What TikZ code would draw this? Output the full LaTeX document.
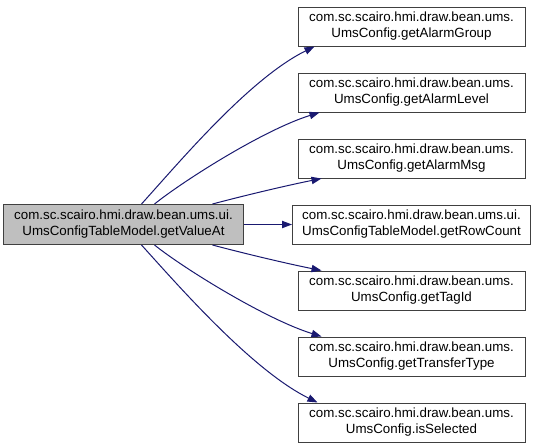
\documentclass[tikz,border=0pt]{standalone}
\usepackage{fontspec}
\setmainfont{Liberation Sans}
\usepackage{xcolor}
\usetikzlibrary{
  arrows.meta,
  calc,
  positioning
}
\definecolor{EdgeBlue}{RGB}{25,25,112}
\definecolor{NodeGray}{RGB}{191,191,191}

\begin{document}
\begin{tikzpicture}[
  x=0.75pt, y=-0.75pt,
  font=\fontsize{10}{12}\selectfont,
  node distance=19.5pt and 36pt,
  fnbox/.style={draw=black!75, line width=0.75pt, fill=#1, align=center,
                minimum width=170.25pt, minimum height=29.25pt, inner sep=1pt},
  fnbox/.default=white,
  call/.style={draw=EdgeBlue, line width=0.75pt,
               -{Triangle[length=7.5pt, width=5.5pt]}, fill=none},
]
  \useasboundingbox (0,0) rectangle (536,444);

  \node[fnbox] (agroup) at (411.5,26.5) {com.sc.scairo.hmi.draw.bean.ums.\\UmsConfig.getAlarmGroup};
  \node[fnbox, below=of agroup] (alevel) {com.sc.scairo.hmi.draw.bean.ums.\\UmsConfig.getAlarmLevel};
  \node[fnbox, below=of alevel] (amsg) {com.sc.scairo.hmi.draw.bean.ums.\\UmsConfig.getAlarmMsg};
  \node[fnbox, below=of amsg, minimum width=178.5pt] (rows) {com.sc.scairo.hmi.draw.bean.ums.ui.\\UmsConfigTableModel.getRowCount};
  \node[fnbox, below=of rows] (tagid) {com.sc.scairo.hmi.draw.bean.ums.\\UmsConfig.getTagId};
  \node[fnbox, below=of tagid] (ttype) {com.sc.scairo.hmi.draw.bean.ums.\\UmsConfig.getTransferType};
  \node[fnbox, below=of ttype] (issel) {com.sc.scairo.hmi.draw.bean.ums.\\UmsConfig.isSelected};
  \node[fnbox=NodeGray, left=of rows, minimum width=180pt, minimum height=30pt] (main) {com.sc.scairo.hmi.draw.bean.ums.ui.\\UmsConfigTableModel.getValueAt};

  \draw[call] ($(main.north)+(18,0)$) .. controls +(38,-42) and +(-65,32) .. ($(agroup.south west)+(17,0)$);
  \draw[call] ($(main.north)+(31,0)$) .. controls +(30,-24) and +(-55,17) .. ($(alevel.south west)+(22,0)$);
  \draw[call] ($(main.north)+(89,0)$) .. controls +(30,-8) and +(-35,7) .. ($(amsg.south west)+(24,0)$);
  \draw[call] (main) -- (rows);
  \draw[call] ($(main.south)+(89,0)$) .. controls +(30,8) and +(-35,-7) .. ($(tagid.north west)+(24,0)$);
  \draw[call] ($(main.south)+(31,0)$) .. controls +(30,24) and +(-55,-17) .. ($(ttype.north west)+(24,0)$);
  \draw[call] ($(main.south)+(18,0)$) .. controls +(38,42) and +(-65,-32) .. ($(issel.north west)+(20,0)$);
\end{tikzpicture}
\end{document}
